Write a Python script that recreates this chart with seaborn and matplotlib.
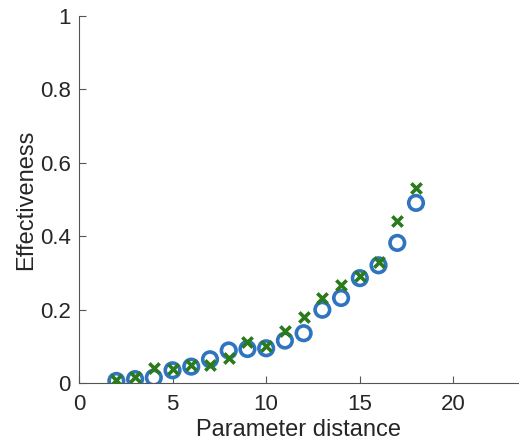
import pandas as pd
import matplotlib
matplotlib.use("Agg")
import matplotlib.pyplot as plt
import seaborn as sns

# values
distance = list(range(2, 19))
eff_circle = [0.006, 0.011, 0.015, 0.035, 0.045, 0.065, 0.089, 0.093, 0.095,
              0.116, 0.136, 0.200, 0.232, 0.286, 0.321, 0.382, 0.491]
eff_cross = [0.009, 0.018, 0.041, 0.038, 0.050, 0.050, 0.068, 0.111, 0.100,
             0.141, 0.179, 0.232, 0.268, 0.291, 0.329, 0.441, 0.532]

sns.set_style("ticks")
plt.rcParams['font.family'] = ['Liberation Sans', 'DejaVu Sans']

df = pd.DataFrame({"distance": distance, "circle": eff_circle, "cross": eff_cross})

fig = plt.figure(figsize=(5.19, 4.45), dpi=100)
ax = fig.add_axes([0.152, 0.139, 0.848, 0.825])

sns.scatterplot(data=df, x="distance", y="circle", ax=ax, marker="o",
                s=110, facecolors="none", edgecolor="#2f74be", linewidth=2.6,
                legend=False, zorder=3)
sns.scatterplot(data=df, x="distance", y="cross", ax=ax, marker="x",
                s=55, color="#2b7a1c", linewidth=2.6, legend=False, zorder=4)

ax.set_xlim(0, 23.5)
ax.set_ylim(0, 1)
ax.set_xticks([0, 5, 10, 15, 20])
ax.set_yticks([0, 0.2, 0.4, 0.6, 0.8, 1])
ax.set_yticklabels(["0", "0.2", "0.4", "0.6", "0.8", "1"])
ax.set_xlabel("Parameter distance", fontsize=17, labelpad=3)
ax.set_ylabel("Effectiveness", fontsize=17, labelpad=2)
ax.tick_params(direction="in", length=5, width=0.8, labelsize=16, color="#555555")
ax.tick_params(axis="x", pad=8)
ax.tick_params(axis="y", pad=6)
for side in ["top", "right"]:
    ax.spines[side].set_visible(False)
for side in ["left", "bottom"]:
    ax.spines[side].set_color("#555555")
    ax.spines[side].set_linewidth(0.8)

fig.savefig("out.png", dpi=100)
